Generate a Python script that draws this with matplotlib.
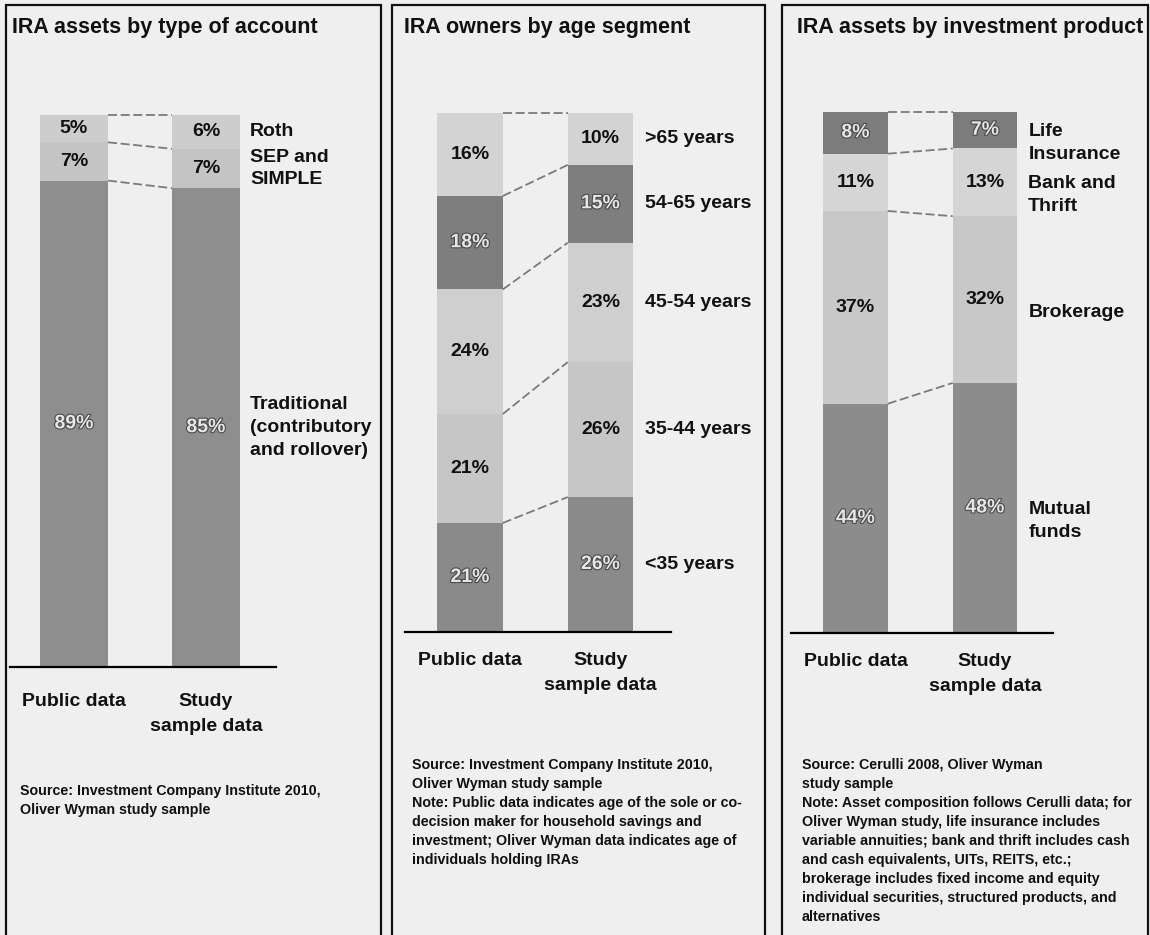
import matplotlib.pyplot as plt
from matplotlib import patheffects
from matplotlib.patches import Rectangle

plt.rcParams['font.family'] = ['Liberation Sans', 'DejaVu Sans']
plt.rcParams['font.weight'] = 'bold'

W, H = 1150, 935

# bars compared in every panel
bar_names = ["Public data", "Study\nsample data"]

# IRA assets by type of account (bottom to top)
account_types = ["Traditional\n(contributory\nand rollover)", "SEP and\nSIMPLE", "Roth"]
account_public = [89, 7, 5]
account_study = [85, 7, 6]

# IRA owners by age segment (bottom to top)
age_groups = ["<35 years", "35-44 years", "45-54 years", "54-65 years", ">65 years"]
age_public = [21, 21, 24, 18, 16]
age_study = [26, 26, 23, 15, 10]

# IRA assets by investment product (bottom to top)
product_types = ["Mutual\nfunds", "Brokerage", "Bank and\nThrift", "Life\nInsurance"]
product_public = [44, 37, 11, 8]
product_study = [48, 32, 13, 7]

titles = ["IRA assets by type of account",
          "IRA owners by age segment",
          "IRA assets by investment product"]

sources = [
    "Source: Investment Company Institute 2010,\nOliver Wyman study sample",
    "Source: Investment Company Institute 2010,\nOliver Wyman study sample\n"
    "Note: Public data indicates age of the sole or co-\n"
    "decision maker for household savings and\n"
    "investment; Oliver Wyman data indicates age of\n"
    "individuals holding IRAs",
    "Source: Cerulli 2008, Oliver Wyman\nstudy sample\n"
    "Note: Asset composition follows Cerulli data; for\n"
    "Oliver Wyman study, life insurance includes\n"
    "variable annuities; bank and thrift includes cash\n"
    "and cash equivalents, UITs, REITS, etc.;\n"
    "brokerage includes fixed income and equity\n"
    "individual securities, structured products, and\n"
    "alternatives",
]

LIGHT_TXT = '#e6e6e6'
DARK_TXT = '#111111'

panels = [
    dict(public=account_public, study=account_study, names=account_types,
         colors=['#8e8e8e', '#c4c4c4', '#cdcdcd'], dark=[True, False, False],
         axes_px=(10, 276, 115, 667), centers=(74, 206), bar_px=68,
         label_gap=10, label_dy=0, cat_off=26,
         border=(6, 381), title_xy=(12, 28), source_xy=(20, 784)),
    dict(public=age_public, study=age_study, names=age_groups,
         colors=['#8a8a8a', '#c6c6c6', '#cfcfcf', '#7e7e7e', '#d3d3d3'],
         dark=[True, False, False, True, False],
         axes_px=(405, 671, 113, 632), centers=(470, 600.5), bar_px=65.5,
         label_gap=12, label_dy=0, cat_off=20,
         border=(392, 765), title_xy=(404, 28), source_xy=(412, 758)),
    dict(public=product_public, study=product_study, names=product_types,
         colors=['#8c8c8c', '#c8c8c8', '#d5d5d5', '#7c7c7c'],
         dark=[True, False, False, True],
         axes_px=(791, 1053, 112, 633), centers=(855.5, 985), bar_px=64.5,
         label_gap=11, label_dy=13, cat_off=20,
         border=(782, 1148), title_xy=(797, 28), source_xy=(802, 758)),
]

fig = plt.figure(figsize=(W / 100, H / 100), dpi=100, facecolor='#efefef')

outline = [patheffects.withStroke(linewidth=1.6, foreground='#4a4a4a')]

for p, title, source in zip(panels, titles, sources):
    left, right, top, bottom = p['axes_px']
    c0, c1 = p['centers']
    unit = c1 - c0
    ax = fig.add_axes([left / W, 1 - bottom / H, (right - left) / W, (bottom - top) / H])
    ax.set_xlim((left - c0) / unit, (right - c0) / unit)
    ax.set_ylim(0, 100)
    ax.set_axis_off()
    width = p['bar_px'] / unit

    tops = []
    for i, vals in enumerate([p['public'], p['study']]):
        total = sum(vals)
        base = 0
        bar_tops = []
        mids = []
        for v, col, dk in zip(vals, p['colors'], p['dark']):
            h = v / total * 100
            ax.bar(i, h, width, bottom=base, color=col, linewidth=0)
            if dk:
                ax.text(i, base + h / 2, f"{v}%", ha='center', va='center',
                        fontsize=14, color=LIGHT_TXT, path_effects=outline)
            else:
                ax.text(i, base + h / 2, f"{v}%", ha='center', va='center',
                        fontsize=14, color=DARK_TXT)
            mids.append(base + h / 2)
            base += h
            bar_tops.append(base)
        tops.append(bar_tops)
        if i == 1:
            # segment names on the right of the second bar
            for name, m in zip(p['names'], mids):
                ax.annotate(name, xy=(1 + width / 2, m),
                            xytext=(p['label_gap'], -p['label_dy']),
                            textcoords='offset pixels', ha='left', va='center',
                            fontsize=14, linespacing=1.45, color=DARK_TXT)

    # dashed connectors between matching segment edges
    for y0, y1 in zip(tops[0], tops[1]):
        ax.plot([width / 2, 1 - width / 2], [y0, y1], color='#7a7a7a',
                lw=1.3, ls=(0, (5, 2)), clip_on=False)

    ax.axhline(0, color='black', lw=1.6, clip_on=False)

    for i, name in enumerate(bar_names):
        ax.annotate(name, xy=(i, 0), xytext=(0, -p['cat_off']),
                    textcoords='offset pixels', ha='center', va='top',
                    fontsize=14, linespacing=1.6, color=DARK_TXT)

    # panel frame and texts
    bx0, bx1 = p['border']
    fig.add_artist(Rectangle((bx0 / W, -0.02), (bx1 - bx0) / W, 1 - 5 / H + 0.02,
                             transform=fig.transFigure, fill=False,
                             edgecolor='#111111', lw=1.6))
    tx, ty = p['title_xy']
    fig.text(tx / W, 1 - ty / H, title, ha='left', va='center',
             fontsize=15.5, color=DARK_TXT)
    sx, sy = p['source_xy']
    fig.text(sx / W, 1 - sy / H, source, ha='left', va='top',
             fontsize=10.3, linespacing=1.45, color=DARK_TXT)

fig.savefig('out.png', dpi=100, facecolor=fig.get_facecolor())
